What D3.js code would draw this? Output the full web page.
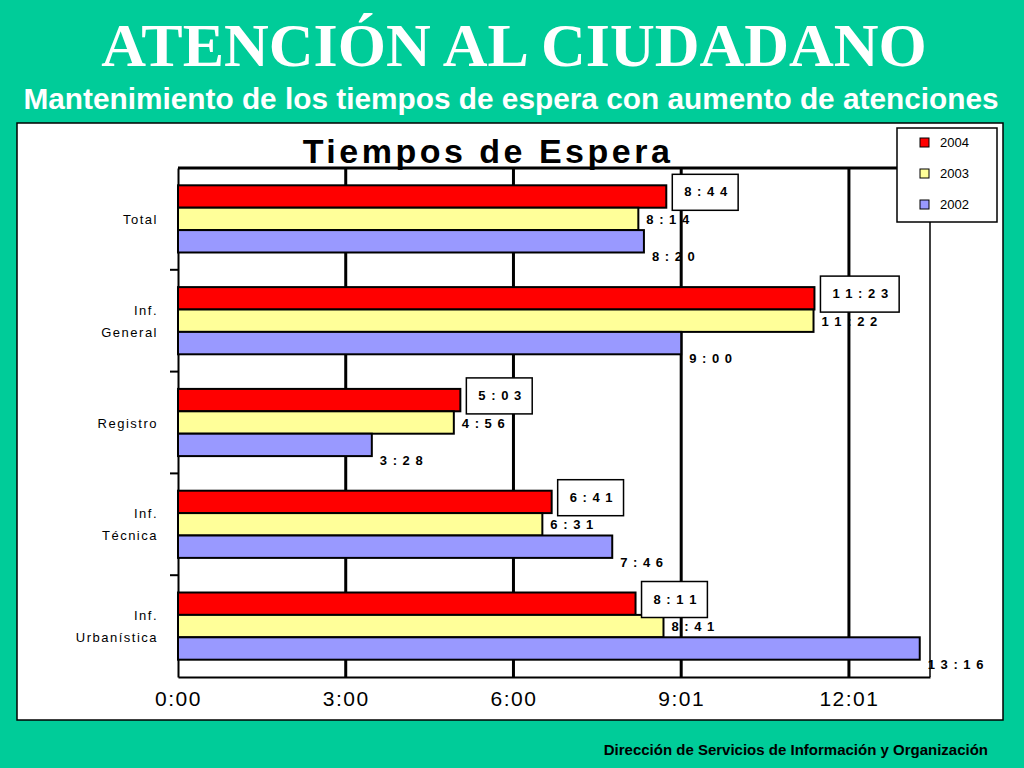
<!DOCTYPE html>
<html><head><meta charset="utf-8">
<script src="https://cdn.jsdelivr.net/npm/d3@7"></script>
<style>body{margin:0;background:#00CC99;}svg{display:block}</style>
</head><body>
<svg id="c" width="1024" height="768"></svg>
<script>
const categories = [["Total"],["Inf.","General"],["Registro"],["Inf.","Técnica"],["Inf.","Urbanística"]];
const series = ["2004","2003","2002"];
const colors = ["#FF0000","#FFFF99","#9999FF"];
const v2004 = ["8:44","11:23","5:03","6:41","8:11"];
const v2003 = ["8:14","11:22","4:56","6:31","8:41"];
const v2002 = ["8:20","9:00","3:28","7:46","13:16"];
const tickVals = [0,3,6,9,12];
const tickLabels = ["0:00","3:00","6:00","9:01","12:01"];
const toMin = s => {const [m,x]=s.split(":").map(Number);return m+x/60;};
const vals = [v2004,v2003,v2002];

const svg = d3.select("#c");
svg.append("text").attr("x",514).attr("y",66).attr("text-anchor","middle").attr("fill","#fff")
 .attr("font-family","Liberation Serif").attr("font-weight","bold").attr("font-size",62).text("ATENCIÓN AL CIUDADANO");
svg.append("text").attr("x",511).attr("y",109).attr("text-anchor","middle").attr("fill","#fff")
 .attr("font-family","Liberation Sans").attr("font-weight","bold").attr("font-size",29.8).text("Mantenimiento de los tiempos de espera con aumento de atenciones");
svg.append("text").attr("x",988).attr("y",755).attr("text-anchor","end").attr("fill","#000")
 .attr("font-family","Liberation Sans").attr("font-weight","bold").attr("font-size",15).text("Dirección de Servicios de  Información y Organización");
svg.append("rect").attr("x",17).attr("y",123).attr("width",986).attr("height",597).attr("fill","#fff").attr("stroke","#000").attr("stroke-width",1.5);

const L=178,R=930,T=168,B=677;
const x = d3.scaleLinear().domain([0,13.45]).range([L,R]);
const y = d3.scaleBand().domain(d3.range(5)).range([T,B]);
const inner = d3.scaleBand().domain(d3.range(3)).range([y.bandwidth()*0.17,y.bandwidth()*0.83]);

svg.append("text").attr("x",488).attr("y",163).attr("text-anchor","middle").attr("font-family","Liberation Sans")
 .attr("font-weight","bold").attr("font-size",34).attr("letter-spacing",3.5).text("Tiempos de Espera");

svg.selectAll(".g").data(tickVals.slice(1)).join("line").attr("x1",d=>x(d)).attr("x2",d=>x(d)).attr("y1",T).attr("y2",B)
 .attr("stroke","#000").attr("stroke-width",3);
svg.append("line").attr("x1",L).attr("x2",R).attr("y1",T).attr("y2",T).attr("stroke","#000").attr("stroke-width",3);
svg.append("line").attr("x1",R).attr("x2",R).attr("y1",T).attr("y2",B).attr("stroke","#000").attr("stroke-width",1.5);

const xa = svg.append("g").attr("transform",`translate(0,${B})`)
 .call(d3.axisBottom(x).tickValues(tickVals).tickFormat((d,i)=>tickLabels[i]).tickSize(0).tickPadding(14));
xa.select(".domain").attr("stroke-width",2);
xa.selectAll("text").attr("font-family","Liberation Sans").attr("font-size",21).attr("letter-spacing",1.5);
const ya = svg.append("g").attr("transform",`translate(${L},0)`).call(d3.axisLeft(y).tickValues([]).tickSizeOuter(0));
ya.select(".domain").attr("stroke-width",2);
svg.selectAll(".yt").data(d3.range(1,5)).join("line").attr("x1",L-8).attr("x2",L).attr("y1",d=>y(d)).attr("y2",d=>y(d)).attr("stroke","#000").attr("stroke-width",2);

categories.forEach((c,i)=>{
  const cy=y(i)+y.bandwidth()/2;
  const t=svg.append("text").attr("x",158).attr("text-anchor","end").attr("font-family","Liberation Sans").attr("font-size",13).attr("letter-spacing",1.5);
  c.forEach((s,j)=>t.append("tspan").attr("x",158).attr("y",cy+5+(j-(c.length-1)/2)*22).text(s));
});

const lab = s => s.split("").join(" ");
vals.forEach((arr,si)=>{
  arr.forEach((v,i)=>{
    const by=y(i)+inner(si), h=inner.bandwidth(), xe=x(toMin(v));
    svg.append("rect").attr("x",L).attr("y",by).attr("width",xe-L).attr("height",h).attr("fill",colors[si]).attr("stroke","#000").attr("stroke-width",2);
  });
});
const boxG = svg.append("g"), txtG = svg.append("g");
vals.forEach((arr,si)=>{
  arr.forEach((v,i)=>{
    const by=y(i)+inner(si), h=inner.bandwidth(), xe=x(toMin(v));
    const ty = si===0? by+11 : si===1? by+h/2+5 : by+h+9;
    const t=txtG.append("text").attr("x",xe+(si===0?18:8)).attr("y",ty).attr("font-family","Liberation Sans")
      .attr("font-size",13).attr("font-weight","bold").attr("letter-spacing",1).text(lab(v));
    if(si===0){const bb=t.node().getBBox();
      boxG.append("rect").attr("x",bb.x-12).attr("y",by-11).attr("width",bb.width+22).attr("height",36).attr("fill","#fff").attr("stroke","#000").attr("stroke-width",1.5);
    }
  });
});

const lg=svg.append("g");
lg.append("rect").attr("x",897).attr("y",128).attr("width",100).attr("height",94).attr("fill","#fff").attr("stroke","#000").attr("stroke-width",1.5);
series.forEach((s,i)=>{
  lg.append("rect").attr("x",920).attr("y",138+i*31).attr("width",9).attr("height",9).attr("fill",colors[i]).attr("stroke","#000");
  lg.append("text").attr("x",940).attr("y",147+i*31).attr("font-family","Liberation Sans").attr("font-size",13).text(s);
});
</script>
</body></html>
